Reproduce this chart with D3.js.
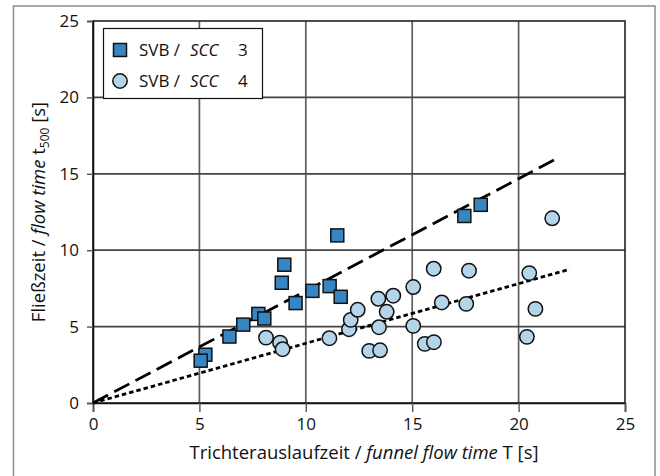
<!DOCTYPE html>
<html>
<head>
<meta charset="utf-8">
<script src="https://cdn.jsdelivr.net/npm/d3@7"></script>
<style>
  body { margin: 0; background: #fff; }
  svg { display: block; font-family: "Open Sans", "Noto Sans", sans-serif; }
</style>
</head>
<body>
<svg id="chart" width="660" height="476"></svg>
<script>
// SVB / SCC 3 (squares)
var scc3X = [11.48, 8.99, 8.87, 10.31, 11.12, 11.64, 9.52, 7.77, 8.05, 7.06, 6.41, 5.28, 5.06, 18.22, 17.45];
var scc3Y = [10.97, 9.05, 7.87, 7.34, 7.65, 6.95, 6.54, 5.83, 5.53, 5.13, 4.35, 3.16, 2.77, 12.97, 12.24];
// SVB / SCC 4 (circles)
var scc4X = [8.13, 8.79, 8.91, 11.11, 12.03, 12.11, 12.44, 13.41, 14.11, 13.80, 13.44, 12.98, 13.49,
             15.05, 15.05, 15.59, 16.02, 16.01, 17.67, 20.50, 16.39, 17.54, 20.79, 20.39, 21.58];
var scc4Y = [4.28, 3.95, 3.52, 4.24, 4.83, 5.44, 6.10, 6.82, 7.02, 5.97, 4.96, 3.41, 3.45,
             7.59, 5.05, 3.87, 3.98, 8.79, 8.66, 8.50, 6.58, 6.49, 6.16, 4.33, 12.09];
// fit lines (start / end points)
var fitSCC3 = [[0, 0], [21.8, 16.0]];
var fitSCC4 = [[0, 0], [22.4, 8.75]];
var xTicks = [0, 5, 10, 15, 20, 25];
var yTicks = [0, 5, 10, 15, 20, 25];
var legendLabels = ["3", "4"];

var svg = d3.select("#chart");

// outer frame
svg.append("rect")
    .attr("x", 13.5).attr("y", 6)
    .attr("width", 641.5).attr("height", 490)
    .attr("fill", "none").attr("stroke", "#8c8c8c").attr("stroke-width", 1.5);

var x = d3.scaleLinear().domain([0, 25]).range([93, 625]);
var y = d3.scaleLinear().domain([0, 25]).range([403, 21]);

// grid
var grid = svg.append("g").attr("class", "grid");
grid.selectAll(".gx").data(xTicks.slice(1, -1)).enter().append("line")
    .attr("x1", d => x(d)).attr("x2", d => x(d))
    .attr("y1", y(0)).attr("y2", y(25))
    .attr("stroke", "#5e5e5e").attr("stroke-width", 1.7);
grid.selectAll(".gy").data(yTicks.slice(1, -1)).enter().append("line")
    .attr("x1", x(0)).attr("x2", x(25))
    .attr("y1", d => y(d)).attr("y2", d => y(d))
    .attr("stroke", "#444").attr("stroke-width", 1.7);

// plot frame
svg.append("rect")
    .attr("x", x(0)).attr("y", y(25))
    .attr("width", x(25) - x(0)).attr("height", y(0) - y(25))
    .attr("fill", "none").attr("stroke", "#222").attr("stroke-width", 1.6);

// axes
var xAxis = d3.axisBottom(x).tickValues(xTicks).tickSize(9).tickPadding(6);
var yAxis = d3.axisLeft(y).tickValues(yTicks).tickSize(6).tickPadding(8);

svg.append("g").attr("transform", "translate(0," + y(0) + ")").call(xAxis)
    .call(g => g.select(".domain").attr("stroke", "#111").attr("stroke-width", 1.6))
    .call(g => g.selectAll(".tick line").attr("stroke", "#555").attr("stroke-width", 1.4))
    .call(g => g.selectAll(".tick text").attr("font-size", 17).attr("fill", "#111")
        .attr("font-family", "Open Sans, sans-serif"));

svg.append("g").attr("transform", "translate(" + x(0) + ",0)").call(yAxis)
    .call(g => g.select(".domain").attr("stroke", "#111").attr("stroke-width", 1.6))
    .call(g => g.selectAll(".tick line").attr("stroke", "#555").attr("stroke-width", 1.4))
    .call(g => g.selectAll(".tick text").attr("font-size", 17).attr("fill", "#111")
        .attr("font-family", "Open Sans, sans-serif"));

// fit lines
var line = d3.line().x(d => x(d[0])).y(d => y(d[1]));
svg.append("path").datum(fitSCC3).attr("d", line)
    .attr("fill", "none").attr("stroke", "#000").attr("stroke-width", 2.8)
    .attr("stroke-dasharray", "17,7");
svg.append("path").datum(fitSCC4).attr("d", line)
    .attr("fill", "none").attr("stroke", "#000").attr("stroke-width", 2.8)
    .attr("stroke-dasharray", "4.5,3");

// points
var sq = 13;
svg.append("g").selectAll("rect").data(d3.range(scc3X.length)).enter().append("rect")
    .attr("x", i => x(scc3X[i]) - sq / 2).attr("y", i => y(scc3Y[i]) - sq / 2)
    .attr("width", sq).attr("height", sq)
    .attr("fill", "#3686c4").attr("stroke", "#111").attr("stroke-width", 1.5);

svg.append("g").selectAll("circle").data(d3.range(scc4X.length)).enter().append("circle")
    .attr("cx", i => x(scc4X[i])).attr("cy", i => y(scc4Y[i])).attr("r", 7.2)
    .attr("fill", "#b4d4ea").attr("stroke", "#111").attr("stroke-width", 1.5);

// legend
var legend = svg.append("g");
legend.append("rect")
    .attr("x", 103.5).attr("y", 28.5).attr("width", 159).attr("height", 70)
    .attr("fill", "#fff").attr("stroke", "#111").attr("stroke-width", 1.2);
legend.append("rect")
    .attr("x", 120 - sq / 2).attr("y", 50 - sq / 2).attr("width", sq).attr("height", sq)
    .attr("fill", "#3686c4").attr("stroke", "#111").attr("stroke-width", 1.5);
legend.append("circle")
    .attr("cx", 120).attr("cy", 81).attr("r", 7.2)
    .attr("fill", "#b4d4ea").attr("stroke", "#111").attr("stroke-width", 1.5);
legendLabels.forEach(function(lab, i) {
    var t = legend.append("text").attr("y", 50 + i * 31).attr("dy", "0.36em")
        .attr("font-size", 17).attr("fill", "#111");
    t.append("tspan").attr("x", 139).text("SVB /");
    t.append("tspan").attr("x", 190).attr("font-style", "italic").text("SCC");
    t.append("tspan").attr("x", 238).text(lab);
});

// axis titles
var xt = svg.append("text").attr("x", 364).attr("y", 459)
    .attr("text-anchor", "middle").attr("font-size", 18.5).attr("fill", "#111");
xt.append("tspan").text("Trichterauslaufzeit / ");
xt.append("tspan").attr("font-style", "italic").text("funnel flow time");
xt.append("tspan").text(" T [s]");

var yt = svg.append("text")
    .attr("transform", "translate(45,212) rotate(-90)")
    .attr("text-anchor", "middle").attr("font-size", 18.5).attr("fill", "#111");
yt.append("tspan").text("Fließzeit / ");
yt.append("tspan").attr("font-style", "italic").text("flow time");
yt.append("tspan").text(" t");
yt.append("tspan").attr("font-size", 12).attr("dy", 4).text("500");
yt.append("tspan").attr("dy", -4).text(" [s]");
</script>
</body>
</html>
